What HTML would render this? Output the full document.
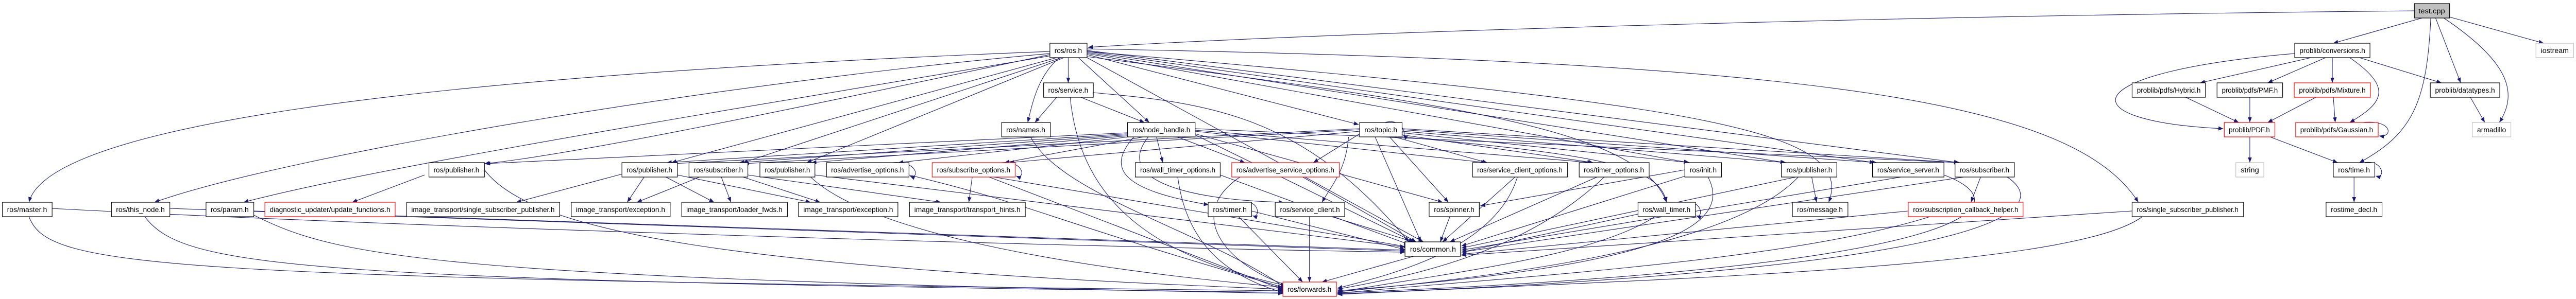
<!DOCTYPE html>
<html><head><meta charset="utf-8"><style>
html,body{margin:0;padding:0;background:#fff;width:100%;height:100%;overflow:hidden;}
svg{display:block;width:100vw;height:100vh;overflow:hidden}
text{font-family:"Liberation Sans",sans-serif;font-size:14px;fill:#000;text-anchor:middle}
.e path{fill:none;stroke:#191970;stroke-width:1.1}
rect{fill:#fff;stroke:#000;stroke-width:1.2}
.r{stroke:#ff0000}
.g{stroke:#bfbfbf}
</style></head><body>
<svg viewBox="0 0 5339 581" preserveAspectRatio="none" xmlns="http://www.w3.org/2000/svg">
<defs><marker id="a" markerWidth="10" markerHeight="8" refX="10" refY="4" orient="auto" markerUnits="userSpaceOnUse"><path d="M0,0 L10,4 L0,8 z" fill="#191970"/></marker></defs>
<g class="e">
<path marker-end="url(#a)" d="M5004,21 C4000,30 2800,60 2255,92"/>
<path marker-end="url(#a)" d="M5020,35 L4836,84"/>
<path marker-end="url(#a)" d="M5038,35 C5030,200 5000,260 4890,316"/>
<path marker-end="url(#a)" d="M5048,35 L5100,161"/>
<path marker-end="url(#a)" d="M5065,35 C5200,120 5220,180 5180,238"/>
<path marker-end="url(#a)" d="M5077,33 L5272,84"/>
<path marker-end="url(#a)" d="M4790,112 L4560,161"/>
<path marker-end="url(#a)" d="M4820,112 L4700,161"/>
<path marker-end="url(#a)" d="M4834,112 L4834,161"/>
<path marker-end="url(#a)" d="M4870,112 C4960,170 4940,200 4870,238"/>
<path marker-end="url(#a)" d="M4890,112 L5060,161"/>
<path marker-end="url(#a)" d="M4756,104 C4300,140 4280,235 4608,250"/>
<path marker-end="url(#a)" d="M4530,189 L4640,238"/>
<path marker-end="url(#a)" d="M4663,189 L4663,238"/>
<path marker-end="url(#a)" d="M4800,189 L4700,238"/>
<path marker-end="url(#a)" d="M4836,189 L4840,238"/>
<path marker-end="url(#a)" d="M4897,238 C4960,232 4960,268 4931,264"/>
<path marker-end="url(#a)" d="M4663,266 L4663,316"/>
<path marker-end="url(#a)" d="M4705,266 L4845,316"/>
<path marker-end="url(#a)" d="M4900,316 C4940,310 4945,348 4924,342"/>
<path marker-end="url(#a)" d="M4879,344 L4879,393"/>
<path marker-end="url(#a)" d="M5120,189 L5150,238"/>
<path marker-end="url(#a)" d="M2176,100 C800,150 100,250 60,393"/>
<path marker-end="url(#a)" d="M2176,104 C1500,160 600,300 320,393"/>
<path marker-end="url(#a)" d="M2180,108 C1600,200 800,320 505,393"/>
<path marker-end="url(#a)" d="M2176,106 C1700,200 1200,300 1004,318"/>
<path marker-end="url(#a)" d="M2190,112 L1392,316"/>
<path marker-end="url(#a)" d="M2200,112 L1540,316"/>
<path marker-end="url(#a)" d="M2205,112 L1672,316"/>
<path marker-end="url(#a)" d="M2214,112 L2214,161"/>
<path marker-end="url(#a)" d="M2195,112 C2150,150 2140,200 2130,238"/>
<path marker-end="url(#a)" d="M2235,112 L2382,238"/>
<path marker-end="url(#a)" d="M2253,106 L2816,242"/>
<path marker-end="url(#a)" d="M2253,104 L3500,316"/>
<path marker-end="url(#a)" d="M2253,102 L3700,316"/>
<path marker-end="url(#a)" d="M2253,100 L3885,316"/>
<path marker-end="url(#a)" d="M2253,98 L4060,316"/>
<path marker-end="url(#a)" d="M2253,95 C3800,120 4300,200 4432,393"/>
<path marker-end="url(#a)" d="M2253,100 C3500,200 3850,250 3790,393"/>
<path marker-end="url(#a)" d="M2253,110 C3000,200 3400,250 3454,393"/>
<path marker-end="url(#a)" d="M2253,112 L2950,470"/>
<path marker-end="url(#a)" d="M2190,189 L2145,238"/>
<path marker-end="url(#a)" d="M2240,189 L2372,238"/>
<path marker-end="url(#a)" d="M2218,189 C2240,400 2400,500 2665,555"/>
<path marker-end="url(#a)" d="M2266,180 C2500,200 2700,220 2920,470"/>
<path marker-end="url(#a)" d="M2136,266 C2200,380 2500,450 2665,560"/>
<path marker-end="url(#a)" d="M2337,258 L1006,318"/>
<path marker-end="url(#a)" d="M2337,260 L1382,316"/>
<path marker-end="url(#a)" d="M2337,262 L1532,316"/>
<path marker-end="url(#a)" d="M2337,264 L1682,316"/>
<path marker-end="url(#a)" d="M2340,266 L1862,316"/>
<path marker-end="url(#a)" d="M2370,266 L2082,316"/>
<path marker-end="url(#a)" d="M2397,266 L2410,316"/>
<path marker-end="url(#a)" d="M2440,266 L2580,316"/>
<path marker-end="url(#a)" d="M2350,266 C2290,330 2330,370 2505,398"/>
<path marker-end="url(#a)" d="M2380,266 C2300,360 2500,390 2660,393"/>
<path marker-end="url(#a)" d="M2477,260 L2990,393"/>
<path marker-end="url(#a)" d="M2477,262 L2930,470"/>
<path marker-end="url(#a)" d="M2477,255 L3080,316"/>
<path marker-end="url(#a)" d="M2477,253 L3300,316"/>
<path marker-end="url(#a)" d="M2477,250 L4060,316"/>
<path marker-end="url(#a)" d="M2850,266 L2945,470"/>
<path marker-end="url(#a)" d="M2880,266 L3002,393"/>
<path marker-end="url(#a)" d="M2890,266 L3082,316"/>
<path marker-end="url(#a)" d="M2906,262 L3302,316"/>
<path marker-end="url(#a)" d="M2906,258 L3502,316"/>
<path marker-end="url(#a)" d="M2906,255 L3702,316"/>
<path marker-end="url(#a)" d="M2906,252 L3890,316"/>
<path marker-end="url(#a)" d="M2906,250 L4062,316"/>
<path marker-end="url(#a)" d="M2906,266 C3300,300 3440,320 3454,393"/>
<path marker-end="url(#a)" d="M2795,266 C2790,330 2760,360 2740,393"/>
<path marker-end="url(#a)" d="M2818,260 L2722,316"/>
<path marker-end="url(#a)" d="M2818,255 L2092,316"/>
<path marker-end="url(#a)" d="M2818,250 L1394,318"/>
<path marker-end="url(#a)" d="M2818,252 L1542,318"/>
<path marker-end="url(#a)" d="M2870,238 C2910,228 2915,268 2908,262"/>
<path marker-end="url(#a)" d="M880,340 L730,393"/>
<path marker-end="url(#a)" d="M1290,338 L1070,393"/>
<path marker-end="url(#a)" d="M1335,344 L1300,393"/>
<path marker-end="url(#a)" d="M1380,344 L1480,393"/>
<path marker-end="url(#a)" d="M1404,340 L1680,393"/>
<path marker-end="url(#a)" d="M1450,344 L1320,393"/>
<path marker-end="url(#a)" d="M1495,344 L1515,393"/>
<path marker-end="url(#a)" d="M1540,344 L1700,393"/>
<path marker-end="url(#a)" d="M1550,340 L1950,393"/>
<path marker-end="url(#a)" d="M1850,316 C1905,312 1905,350 1886,342"/>
<path marker-end="url(#a)" d="M2075,316 C2125,312 2125,350 2106,342"/>
<path marker-end="url(#a)" d="M2015,344 L2008,393"/>
<path marker-end="url(#a)" d="M2060,344 L2920,480"/>
<path marker-end="url(#a)" d="M2050,344 L2665,565"/>
<path marker-end="url(#a)" d="M1884,340 C2150,400 2150,420 2665,560"/>
<path marker-end="url(#a)" d="M2441,344 C2460,480 2550,540 2665,570"/>
<path marker-end="url(#a)" d="M2529,340 L2920,475"/>
<path marker-end="url(#a)" d="M2570,344 C2450,420 2550,520 2670,555"/>
<path marker-end="url(#a)" d="M2700,344 L2935,470"/>
<path marker-end="url(#a)" d="M3140,344 L2990,470"/>
<path marker-end="url(#a)" d="M3145,344 C3100,480 2900,530 2772,560"/>
<path marker-end="url(#a)" d="M3310,344 L3005,470"/>
<path marker-end="url(#a)" d="M3325,344 C3150,500 2900,540 2772,562"/>
<path marker-end="url(#a)" d="M3492,330 L3068,400"/>
<path marker-end="url(#a)" d="M3500,340 L3029,478"/>
<path marker-end="url(#a)" d="M3540,344 C3600,450 3400,520 2772,565"/>
<path marker-end="url(#a)" d="M3755,344 L3765,393"/>
<path marker-end="url(#a)" d="M3722,344 L3029,482"/>
<path marker-end="url(#a)" d="M3727,344 C3600,470 3200,530 2772,567"/>
<path marker-end="url(#a)" d="M3940,344 L3029,486"/>
<path marker-end="url(#a)" d="M4029,340 C4200,400 4100,520 2772,569"/>
<path marker-end="url(#a)" d="M4105,344 L4085,393"/>
<path marker-end="url(#a)" d="M4070,344 L3029,490"/>
<path marker-end="url(#a)" d="M4160,344 C4250,400 4200,520 2772,571"/>
<path marker-end="url(#a)" d="M2575,393 C2612,388 2612,425 2596,419"/>
<path marker-end="url(#a)" d="M2567,421 L2700,548"/>
<path marker-end="url(#a)" d="M2594,410 L2912,485"/>
<path marker-end="url(#a)" d="M2714,421 L2714,548"/>
<path marker-end="url(#a)" d="M2760,421 L2930,470"/>
<path marker-end="url(#a)" d="M3005,421 L2985,470"/>
<path marker-end="url(#a)" d="M3490,393 C3530,388 3530,425 3516,419"/>
<path marker-end="url(#a)" d="M3400,415 L3029,490"/>
<path marker-end="url(#a)" d="M3430,421 C3300,500 3000,530 2772,568"/>
<path marker-end="url(#a)" d="M3955,410 L3029,494"/>
<path marker-end="url(#a)" d="M4000,421 C3700,510 3100,540 2772,570"/>
<path marker-end="url(#a)" d="M4419,410 L3029,496"/>
<path marker-end="url(#a)" d="M4440,421 C4300,520 3500,540 2772,572"/>
<path marker-end="url(#a)" d="M108,405 C800,440 2200,480 2912,490"/>
<path marker-end="url(#a)" d="M60,421 C100,520 300,540 2659,565"/>
<path marker-end="url(#a)" d="M352,405 L2912,488"/>
<path marker-end="url(#a)" d="M300,421 C380,520 600,545 2659,568"/>
<path marker-end="url(#a)" d="M526,410 L2912,486"/>
<path marker-end="url(#a)" d="M526,418 C700,500 900,540 2659,570"/>
<path marker-end="url(#a)" d="M1004,330 C1100,450 1500,520 2659,562"/>
<path marker-end="url(#a)" d="M1680,344 C1800,450 2200,520 2659,558"/>
<path marker-end="url(#a)" d="M1689,340 L2912,480"/>
<path marker-end="url(#a)" d="M2930,498 L2740,548"/>
</g>
<g>
<rect x="5004" y="7" width="73" height="28" style="fill:#bfbfbf"/><text x="5040" y="26" textLength="55" lengthAdjust="spacingAndGlyphs">test.cpp</text>
<rect x="2176" y="84" width="77" height="28"/><text x="2214" y="103" textLength="57" lengthAdjust="spacingAndGlyphs">ros/ros.h</text>
<rect x="4756" y="84" width="156" height="28"/><text x="4834" y="103" textLength="136" lengthAdjust="spacingAndGlyphs">problib/conversions.h</text>
<rect class="g" x="5256" y="84" width="78" height="28"/><text x="5295" y="103" textLength="58" lengthAdjust="spacingAndGlyphs">iostream</text>
<rect x="2163" y="161" width="103" height="28"/><text x="2214" y="180" textLength="83" lengthAdjust="spacingAndGlyphs">ros/service.h</text>
<rect x="4419" y="161" width="152" height="28"/><text x="4495" y="180" textLength="132" lengthAdjust="spacingAndGlyphs">problib/pdfs/Hybrid.h</text>
<rect x="4595" y="161" width="136" height="28"/><text x="4663" y="180" textLength="116" lengthAdjust="spacingAndGlyphs">problib/pdfs/PMF.h</text>
<rect class="r" x="4755" y="161" width="158" height="28"/><text x="4834" y="180" textLength="138" lengthAdjust="spacingAndGlyphs">problib/pdfs/Mixture.h</text>
<rect x="5037" y="161" width="144" height="28"/><text x="5109" y="180" textLength="124" lengthAdjust="spacingAndGlyphs">problib/datatypes.h</text>
<rect x="2076" y="238" width="101" height="28"/><text x="2126" y="257" textLength="81" lengthAdjust="spacingAndGlyphs">ros/names.h</text>
<rect x="2337" y="238" width="140" height="28"/><text x="2407" y="257" textLength="120" lengthAdjust="spacingAndGlyphs">ros/node_handle.h</text>
<rect x="2818" y="238" width="88" height="28"/><text x="2862" y="257" textLength="68" lengthAdjust="spacingAndGlyphs">ros/topic.h</text>
<rect class="r" x="4610" y="238" width="105" height="28"/><text x="4662" y="257" textLength="85" lengthAdjust="spacingAndGlyphs">problib/PDF.h</text>
<rect class="r" x="4758" y="238" width="171" height="28"/><text x="4843" y="257" textLength="151" lengthAdjust="spacingAndGlyphs">problib/pdfs/Gaussian.h</text>
<rect class="g" x="5124" y="238" width="80" height="28"/><text x="5164" y="257" textLength="60" lengthAdjust="spacingAndGlyphs">armadillo</text>
<rect x="889" y="316" width="115" height="28"/><text x="946" y="335" textLength="95" lengthAdjust="spacingAndGlyphs">ros/publisher.h</text>
<rect x="1289" y="316" width="115" height="28"/><text x="1346" y="335" textLength="95" lengthAdjust="spacingAndGlyphs">ros/publisher.h</text>
<rect x="1428" y="316" width="122" height="28"/><text x="1489" y="335" textLength="102" lengthAdjust="spacingAndGlyphs">ros/subscriber.h</text>
<rect x="1575" y="316" width="114" height="28"/><text x="1632" y="335" textLength="94" lengthAdjust="spacingAndGlyphs">ros/publisher.h</text>
<rect x="1713" y="316" width="171" height="28"/><text x="1798" y="335" textLength="151" lengthAdjust="spacingAndGlyphs">ros/advertise_options.h</text>
<rect class="r" x="1932" y="316" width="172" height="28"/><text x="2018" y="335" textLength="152" lengthAdjust="spacingAndGlyphs">ros/subscribe_options.h</text>
<rect x="2353" y="316" width="176" height="28"/><text x="2441" y="335" textLength="156" lengthAdjust="spacingAndGlyphs">ros/wall_timer_options.h</text>
<rect class="r" x="2553" y="316" width="223" height="28"/><text x="2664" y="335" textLength="203" lengthAdjust="spacingAndGlyphs">ros/advertise_service_options.h</text>
<rect x="3052" y="316" width="197" height="28"/><text x="3150" y="335" textLength="177" lengthAdjust="spacingAndGlyphs">ros/service_client_options.h</text>
<rect x="3273" y="316" width="145" height="28"/><text x="3345" y="335" textLength="125" lengthAdjust="spacingAndGlyphs">ros/timer_options.h</text>
<rect x="3492" y="316" width="76" height="28"/><text x="3530" y="335" textLength="56" lengthAdjust="spacingAndGlyphs">ros/init.h</text>
<rect x="3692" y="316" width="115" height="28"/><text x="3750" y="335" textLength="95" lengthAdjust="spacingAndGlyphs">ros/publisher.h</text>
<rect x="3881" y="316" width="148" height="28"/><text x="3955" y="335" textLength="128" lengthAdjust="spacingAndGlyphs">ros/service_server.h</text>
<rect x="4052" y="316" width="123" height="28"/><text x="4113" y="335" textLength="103" lengthAdjust="spacingAndGlyphs">ros/subscriber.h</text>
<rect class="g" x="4634" y="316" width="58" height="28"/><text x="4663" y="335" textLength="38" lengthAdjust="spacingAndGlyphs">string</text>
<rect x="4836" y="316" width="86" height="28"/><text x="4879" y="335" textLength="66" lengthAdjust="spacingAndGlyphs">ros/time.h</text>
<rect x="5" y="393" width="103" height="28"/><text x="56" y="412" textLength="83" lengthAdjust="spacingAndGlyphs">ros/master.h</text>
<rect x="231" y="393" width="121" height="28"/><text x="291" y="412" textLength="101" lengthAdjust="spacingAndGlyphs">ros/this_node.h</text>
<rect x="427" y="393" width="99" height="28"/><text x="476" y="412" textLength="79" lengthAdjust="spacingAndGlyphs">ros/param.h</text>
<rect class="r" x="549" y="393" width="270" height="28"/><text x="684" y="412" textLength="250" lengthAdjust="spacingAndGlyphs">diagnostic_updater/update_functions.h</text>
<rect x="843" y="393" width="317" height="28"/><text x="1001" y="412" textLength="297" lengthAdjust="spacingAndGlyphs">image_transport/single_subscriber_publisher.h</text>
<rect x="1184" y="393" width="205" height="28"/><text x="1286" y="412" textLength="185" lengthAdjust="spacingAndGlyphs">image_transport/exception.h</text>
<rect x="1413" y="393" width="219" height="28"/><text x="1522" y="412" textLength="199" lengthAdjust="spacingAndGlyphs">image_transport/loader_fwds.h</text>
<rect x="1655" y="393" width="206" height="28"/><text x="1758" y="412" textLength="186" lengthAdjust="spacingAndGlyphs">image_transport/exception.h</text>
<rect x="1885" y="393" width="240" height="28"/><text x="2005" y="412" textLength="220" lengthAdjust="spacingAndGlyphs">image_transport/transport_hints.h</text>
<rect x="2504" y="393" width="90" height="28"/><text x="2549" y="412" textLength="70" lengthAdjust="spacingAndGlyphs">ros/timer.h</text>
<rect x="2643" y="393" width="144" height="28"/><text x="2715" y="412" textLength="124" lengthAdjust="spacingAndGlyphs">ros/service_client.h</text>
<rect x="2962" y="393" width="104" height="28"/><text x="3014" y="412" textLength="84" lengthAdjust="spacingAndGlyphs">ros/spinner.h</text>
<rect x="3395" y="393" width="119" height="28"/><text x="3454" y="412" textLength="99" lengthAdjust="spacingAndGlyphs">ros/wall_timer.h</text>
<rect x="3715" y="393" width="115" height="28"/><text x="3772" y="412" textLength="95" lengthAdjust="spacingAndGlyphs">ros/message.h</text>
<rect class="r" x="3955" y="393" width="238" height="28"/><text x="4074" y="412" textLength="218" lengthAdjust="spacingAndGlyphs">ros/subscription_callback_helper.h</text>
<rect x="4419" y="393" width="231" height="28"/><text x="4534" y="412" textLength="211" lengthAdjust="spacingAndGlyphs">ros/single_subscriber_publisher.h</text>
<rect x="4821" y="393" width="116" height="28"/><text x="4879" y="412" textLength="96" lengthAdjust="spacingAndGlyphs">rostime_decl.h</text>
<rect x="2912" y="470" width="115" height="28"/><text x="2970" y="489" textLength="95" lengthAdjust="spacingAndGlyphs">ros/common.h</text>
<rect class="r" x="2659" y="548" width="111" height="28"/><text x="2714" y="567" textLength="91" lengthAdjust="spacingAndGlyphs">ros/forwards.h</text>
</g>
</svg>
</body></html>
